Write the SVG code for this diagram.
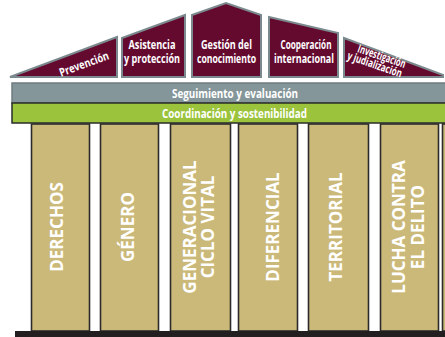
<svg xmlns="http://www.w3.org/2000/svg" width="445" height="337" viewBox="0 0 445 337">
<style>
.roof{fill:#650a2f;stroke:#7b8a8e;stroke-width:2;stroke-linejoin:miter}
.rt{font-family:"Open Sans","DejaVu Sans",sans-serif;font-weight:700;font-size:11.5px;fill:#ffffff;text-anchor:middle}
.band{stroke-width:1.5}
.bt{font-family:"Open Sans","DejaVu Sans",sans-serif;font-weight:700;font-size:13px;fill:#ffffff;text-anchor:middle}
.col{fill:#cbb97a;stroke:#2b2b2b;stroke-width:1.6}
.ct{font-family:"Open Sans","DejaVu Sans",sans-serif;font-weight:700;font-size:17px;fill:#ffffff;text-anchor:middle}
</style>
<rect width="445" height="337" fill="#ffffff"/>
<g id="prevencion">
<polygon class="roof" points="10,77 117,37 117,77"/>
<text class="rt" transform="translate(84,64) rotate(-20)" y="4" textLength="52" lengthAdjust="spacingAndGlyphs">Prevención</text>
</g>
<g id="asistencia">
<polygon class="roof" points="122,38 185,15 185,77 122,77"/>
<text class="rt" x="152" y="49" textLength="47" lengthAdjust="spacingAndGlyphs">Asistencia</text>
<text class="rt" x="152" y="63" textLength="56" lengthAdjust="spacingAndGlyphs">y protección</text>
</g>
<g id="gestion">
<polygon class="roof" points="192,15 226,3 261,15 261,77 192,77"/>
<text class="rt" x="226.5" y="49" textLength="51" lengthAdjust="spacingAndGlyphs">Gestión del</text>
<text class="rt" x="226.5" y="63" textLength="59" lengthAdjust="spacingAndGlyphs">conocimiento</text>
</g>
<g id="cooperacion">
<polygon class="roof" points="269,17 338,33 338,77 269,77"/>
<text class="rt" x="306" y="49" textLength="51" lengthAdjust="spacingAndGlyphs">Cooperación</text>
<text class="rt" x="304" y="63" textLength="60" lengthAdjust="spacingAndGlyphs">internacional</text>
</g>
<g id="investigacion">
<polygon class="roof" points="344,38 443,75 443,77 344,77"/>
<g transform="translate(377,61) rotate(19)">
<text class="rt" x="3" y="-2" font-size="10.5" textLength="50" lengthAdjust="spacingAndGlyphs">Investigación</text>
<text class="rt" x="-1" y="8" font-size="10.5" textLength="57" lengthAdjust="spacingAndGlyphs">y judialización</text>
</g>
</g>
<g id="seguimiento">
<rect class="band" x="12" y="83" width="440" height="20" fill="#85969a" stroke="#6f7c80"/>
<text class="bt" x="235" y="98" textLength="126" lengthAdjust="spacingAndGlyphs">Seguimiento y evaluación</text>
</g>
<g id="coordinacion">
<rect class="band" x="12" y="103" width="440" height="20" fill="#9bc43c" stroke="#2b2b2b"/>
<text class="bt" x="234.5" y="118" textLength="145" lengthAdjust="spacingAndGlyphs">Coordinación y sostenibilidad</text>
</g>
<g id="derechos">
<rect class="col" x="31.5" y="124" width="58" height="207"/>
<text class="ct" transform="translate(63,227) rotate(-90)">DERECHOS</text>
</g>
<g id="genero">
<rect class="col" x="100.5" y="124" width="58" height="207"/>
<text class="ct" transform="translate(134,227) rotate(-90)">GÉNERO</text>
</g>
<g id="generacional">
<rect class="col" x="170.5" y="124" width="60" height="207"/>
<text class="ct" transform="translate(196,227) rotate(-90)">GENERACIONAL</text>
<text class="ct" transform="translate(214,227) rotate(-90)">CICLO VITAL</text>
</g>
<g id="diferencial">
<rect class="col" x="238.5" y="124" width="59" height="207"/>
<text class="ct" transform="translate(278.5,227) rotate(-90)">DIFERENCIAL</text>
</g>
<g id="territorial">
<rect class="col" x="308.5" y="124" width="60" height="207"/>
<text class="ct" transform="translate(342,227) rotate(-90)">TERRITORIAL</text>
</g>
<g id="lucha">
<rect class="col" x="380.5" y="124" width="58" height="207"/>
<text class="ct" transform="translate(405,227) rotate(-90)">LUCHA CONTRA</text>
<text class="ct" transform="translate(423.5,227) rotate(-90)">EL DELITO</text>
</g>
<g id="extra">
<rect class="col" x="442.5" y="124" width="20" height="207"/>
</g>
<g id="connectors"></g>
<g id="base">
<rect x="15" y="331" width="430" height="6" fill="#231f20"/>
</g>
</svg>
